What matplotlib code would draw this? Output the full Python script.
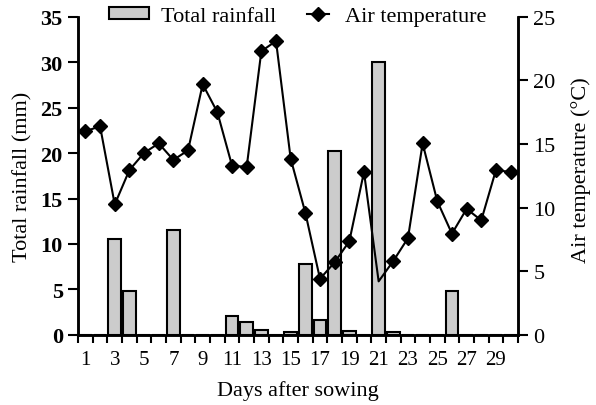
import matplotlib
matplotlib.use("Agg")
import matplotlib.pyplot as plt
from matplotlib.legend_handler import HandlerLine2D
import numpy as np

days = list(range(1, 31))
rainfall = [0, 0, 10.5, 4.8, 0, 0, 11.5, 0, 0, 0,
            2.1, 1.4, 0.5, 0, 0.35, 7.8, 1.65, 20.2, 0.4, 0,
            30.0, 0.3, 0, 0, 0, 4.8, 0, 0, 0, 0]
temperature = [16.0, 16.4, 10.25, 12.95, 14.3, 15.05, 13.75, 14.5, 19.7, 17.5,
               13.3, 13.2, 22.3, 23.1, 13.85, 9.6, 4.4, 5.7, 7.35, 12.8,
               4.2, 5.8, 7.6, 15.05, 10.5, 7.95, 9.9, 9.0, 12.95, 12.8]
xtick_labels = [str(d) for d in range(1, 31, 2)]

plt.rcParams['font.family'] = ['Liberation Serif', 'DejaVu Serif']
plt.rcParams['font.size'] = 16


class ShortLine(HandlerLine2D):
    def create_artists(self, legend, orig_handle, xdescent, ydescent, width, height,
                       fontsize, trans):
        w2 = width * 0.55
        off = width - w2 - 0.1 * width
        return super().create_artists(legend, orig_handle, xdescent - off, ydescent,
                                      w2, height, fontsize, trans)


fig = plt.figure(figsize=(5.96, 4.06), dpi=100)
ax = fig.add_axes([0.131, 0.173, 0.738, 0.783])
ax2 = ax.twinx()
ax.set_zorder(1)
ax2.set_zorder(2)
ax2.patch.set_visible(False)

bars = ax.bar(days, rainfall, width=0.86, color='#cccccc', edgecolor='black',
              linewidth=1.5, label='Total rainfall')
mark_idx = [i for i in range(len(days)) if days[i] != 21]
line, = ax2.plot(days, temperature, color='black', linewidth=1.5, marker='D',
                 markersize=7, markevery=mark_idx, label='Air temperature')

ax.set_xlim(0.5, 30.5)
ax.set_ylim(0, 35)
ax2.set_ylim(0, 25)

ax.set_xticks(np.arange(0.5, 31, 1))
ax.set_xticklabels([])
ax.set_xticks(list(range(1, 31, 2)), minor=True)
ax.set_xticklabels(xtick_labels, minor=True)
ax.tick_params(axis='x', which='major', direction='out', length=6, width=1.5)
ax.tick_params(axis='x', which='minor', length=0, pad=11, labelsize=15)

ax.set_yticks(range(0, 36, 5))
ax2.set_yticks(range(0, 26, 5))
ax.tick_params(axis='y', direction='out', length=7, width=1.5, pad=4)
ax2.tick_params(axis='y', direction='out', length=7, width=1.5, pad=4)
for t in ax.get_yticklabels():
    t.set_fontweight('bold')

for a in (ax, ax2):
    a.spines['top'].set_visible(False)
    for s in ('left', 'right', 'bottom'):
        a.spines[s].set_linewidth(1.8)

ax.set_xlabel('Days after sowing', labelpad=8)
ax.set_ylabel('Total rainfall (mm)', labelpad=6)
ax2.set_ylabel('Air temperature (°C)', labelpad=11)
ax2.yaxis.label.set_y(0.52)

leg = ax2.legend([bars, line], ['Total rainfall', 'Air temperature'], ncol=2,
                 frameon=False, loc='center', bbox_to_anchor=(0.5, 1.0),
                 handlelength=1.8, handleheight=0.45, columnspacing=0.75,
                 handletextpad=0.55, borderaxespad=0,
                 handler_map={line: ShortLine()})

fig.savefig('out.png', dpi=100)
